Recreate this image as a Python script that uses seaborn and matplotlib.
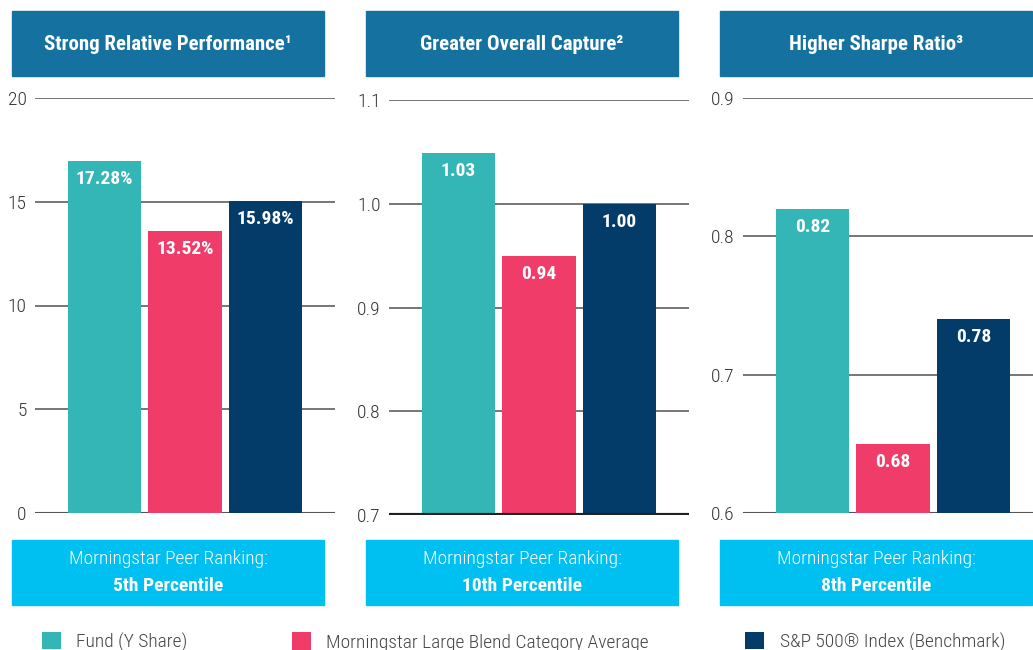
import matplotlib
matplotlib.use("Agg")
import matplotlib.pyplot as plt
from matplotlib.patches import Rectangle, Patch
from matplotlib import font_manager
import seaborn as sns
import pandas as pd

sns.set_theme(style="white")

_names = {f.name for f in font_manager.fontManager.ttflist}
FONT = next((n for n in ["Roboto Condensed", "Barlow Semi Condensed", "IBM Plex Sans Condensed",
                         "Open Sans Condensed", "Roboto"] if n in _names), "DejaVu Sans")
plt.rcParams["font.family"] = [FONT, "DejaVu Sans"]

# ---- data ----
series = ["Fund (Y Share)", "Morningstar Large Blend Category Average", "S&P 500® Index (Benchmark)"]
titles = ["Strong Relative Performance¹", "Greater Overall Capture²", "Higher Sharpe Ratio³"]
# bar heights as drawn in the picture
perf_values = [16.96, 13.6, 15.02]
capture_values = [1.049, 0.95, 1.00]
sharpe_values = [0.82, 0.65, 0.74]
# printed value labels
perf_labels = ["17.28%", "13.52%", "15.98%"]
capture_labels = ["1.03", "0.94", "1.00"]
sharpe_labels = ["0.82", "0.68", "0.78"]
perf_ticks = [0, 5, 10, 15, 20]
capture_ticks = [0.7, 0.8, 0.9, 1.0, 1.1]
sharpe_ticks = [0.6, 0.7, 0.8, 0.9]
perf_ticklabels = ["0", "5", "10", "15", "20"]
capture_ticklabels = ["0.7", "0.8", "0.9", "1.0", "1.1"]
sharpe_ticklabels = ["0.6", "0.7", "0.8", "0.9"]
ranking_label = "Morningstar Peer Ranking:"
rankings = ["5th Percentile", "10th Percentile", "8th Percentile"]

colors = ["#34B6B6", "#F03C68", "#033B69"]
HEADER = "#1572A0"
CYAN = "#00BFF1"

W, H = 1033, 650
fig = plt.figure(figsize=(W / 100, H / 100), dpi=100)


def fx(px):
    return px / W


def fy(py):
    return 1 - py / H


panels = [
    dict(vals=perf_values, labs=perf_labels, ticks=perf_ticks, tl=perf_ticklabels,
         ylim=(0, 20), ax_x=(35, 335), ax_y=(513, 98), box_x=12),
    dict(vals=capture_values, labs=capture_labels, ticks=capture_ticks, tl=capture_ticklabels,
         ylim=(0.7, 1.1), ax_x=(389, 689), ax_y=(515, 100), box_x=366),
    dict(vals=sharpe_values, labs=sharpe_labels, ticks=sharpe_ticks, tl=sharpe_ticklabels,
         ylim=(0.6, 0.9), ax_x=(743, 1043), ax_y=(513, 98), box_x=720),
]

for i, p in enumerate(panels):
    x0, x1 = p["ax_x"]
    yb, yt = p["ax_y"]
    ax = fig.add_axes([fx(x0), fy(yb), fx(x1 - x0), (yb - yt) / H])
    df = pd.DataFrame({"series": series, "value": p["vals"]})
    sns.barplot(data=df, x="series", y="value", hue="series", palette=colors,
                order=series, hue_order=series, width=0.907, legend=False,
                saturation=1, linewidth=0, ax=ax, zorder=3)
    left = -69.5 / 80.5
    ax.set_xlim(left, left + 300 / 80.5)
    lo, hi = p["ylim"]
    ax.set_ylim(lo, hi)
    ax.set_yticks(p["ticks"])
    ax.set_yticklabels(p["tl"], fontsize=14, color="#333333", fontweight="light")
    ax.tick_params(axis="y", length=0, pad=6)
    ax.set_xticks([])
    ax.set_xlabel("")
    ax.set_ylabel("")
    for s in ax.spines.values():
        s.set_visible(False)
    for t in p["ticks"]:
        if t == lo:
            continue
        ax.axhline(t, color="#6b6b6b", lw=1.3, zorder=1)
    if i == 1:
        ax.axhline(lo, color="#222222", lw=3, zorder=4)
    else:
        ax.axhline(lo, color="#555555", lw=1.5, zorder=1)
    ax.patch.set_alpha(0)
    span = hi - lo
    for j, (v, lab) in enumerate(zip(p["vals"], p["labs"])):
        ax.text(j, v - span * 18 / 415, lab, ha="center", va="center",
                color="white", fontsize=14, fontweight="bold", zorder=5)

    bx = p["box_x"]
    fig.patches.append(Rectangle((fx(bx), fy(76)), fx(312), 65 / H,
                                 transform=fig.transFigure, color=HEADER, zorder=0))
    fig.text(fx(bx + 156), fy(44), titles[i], ha="center", va="center",
             color="white", fontsize=15, fontweight="bold")
    fig.patches.append(Rectangle((fx(bx), fy(605)), fx(312), 65 / H,
                                 transform=fig.transFigure, color=CYAN, zorder=0))
    fig.text(fx(bx + 156), fy(559), ranking_label, ha="center",
             va="center", color="white", fontsize=14, fontweight="light")
    fig.text(fx(bx + 156), fy(586), rankings[i], ha="center", va="center",
             color="white", fontsize=14, fontweight="bold")

leg_x = [24, 274, 727]
for k in range(3):
    fig.legend(handles=[Patch(facecolor=colors[k], edgecolor="none")],
               labels=[series[k]], loc="center left",
               bbox_to_anchor=(fx(leg_x[k]), fy(642)), frameon=False,
               prop={"size": 14, "weight": "light"}, handlelength=0.98, handleheight=0.98,
               handletextpad=0.82, labelcolor="#444444")

fig.savefig("out.png", dpi=100)
